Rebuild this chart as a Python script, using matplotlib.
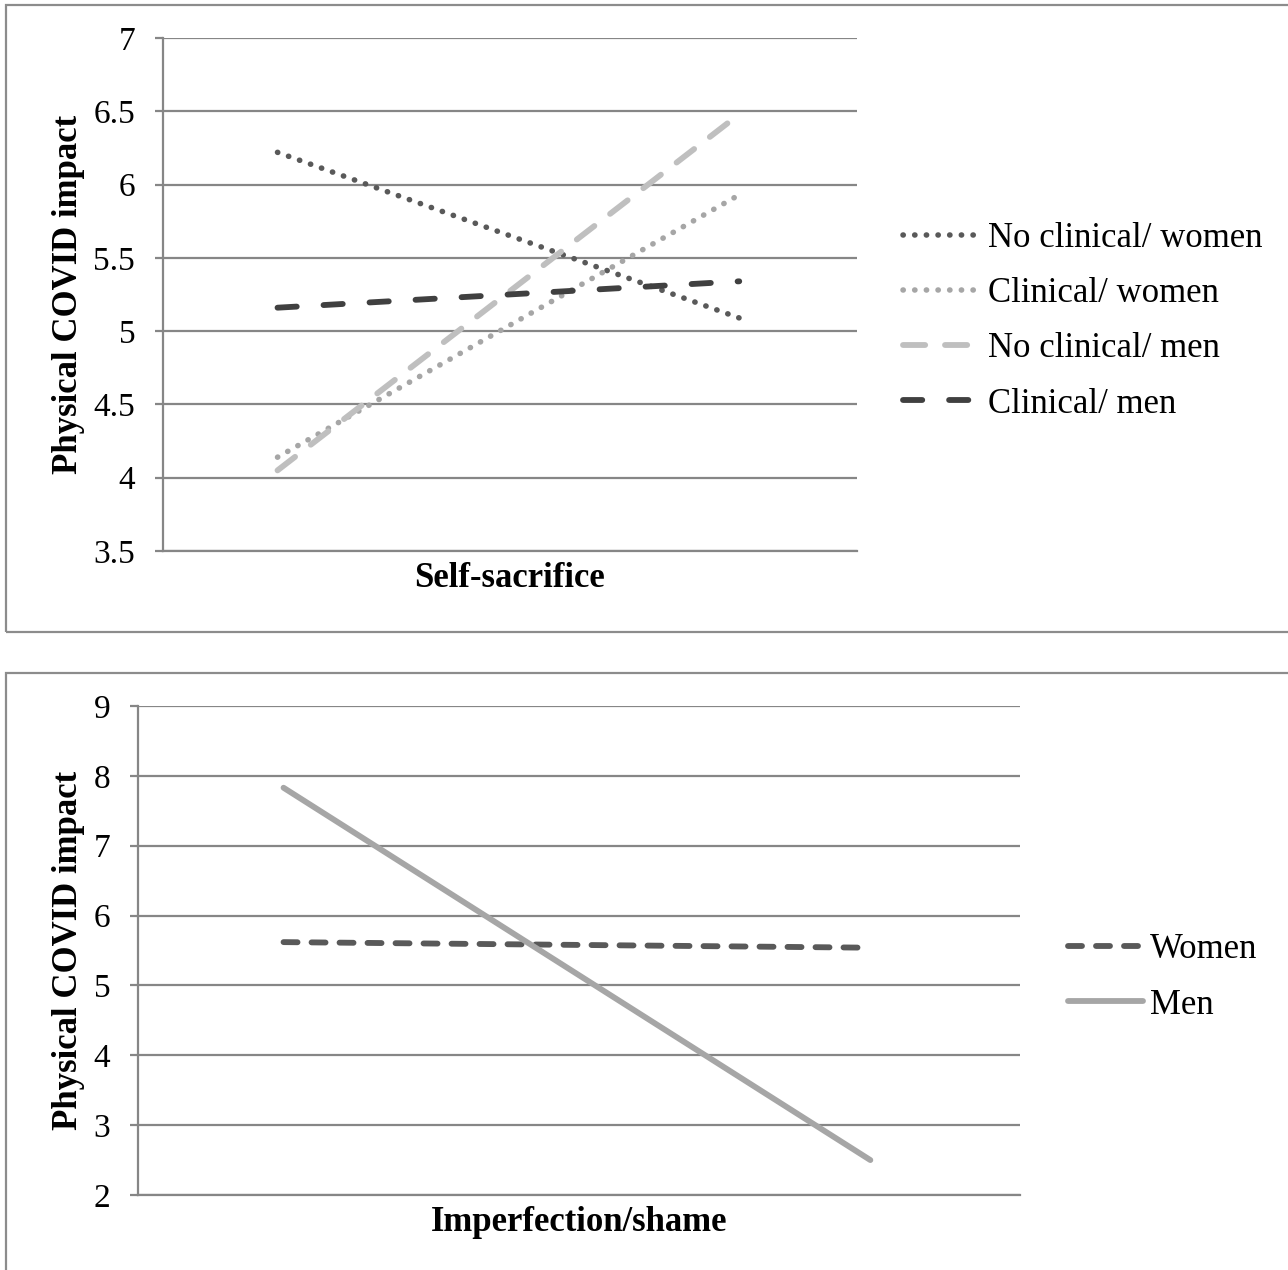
import matplotlib.pyplot as plt
from matplotlib.patches import Rectangle

plt.rcParams['font.family'] = ['Liberation Serif', 'DejaVu Serif']

# Top chart: physical COVID impact by self-sacrifice (low / high)
top_series = ['No clinical/ women', 'Clinical/ women', 'No clinical/ men', 'Clinical/ men']
top_low = [6.22, 4.14, 4.05, 5.16]
top_high = [5.09, 5.93, 6.48, 5.34]
top_colors = ['#595959', '#a6a6a6', '#bfbfbf', '#404040']
top_widths = [4.0, 4.0, 4.2, 4.2]
top_dashes = [(0, (0.05, 2.05)), (0, (0.05, 2.05)), (0, (3.8, 3.4)), (0, (3.3, 4.6))]
top_yticks = [3.5, 4, 4.5, 5, 5.5, 6, 6.5, 7]

# Bottom chart: physical COVID impact by imperfection/shame
bot_series = ['Women', 'Men']
bot_low = [5.62, 7.83]
bot_high = [5.54, 2.50]
bot_colors = ['#595959', '#a6a6a6']
bot_dashes = [(0, (2.4, 2.4)), '-']
bot_yticks = [2, 3, 4, 5, 6, 7, 8, 9]

W, H = 1288, 1270
fig = plt.figure(figsize=(W / 100, H / 100), dpi=100)

# panel borders
for (y0, y1) in [(5, 632), (673, 1272)]:
    fig.patches.append(Rectangle((6 / W, 1 - y1 / H), (W + 10) / W, (y1 - y0) / H,
                                 transform=fig.transFigure, fill=False,
                                 edgecolor='#8c8c8c', lw=1.6))

grid_c = '#868686'


def style_axes(ax, yticks, xlabel):
    ax.set_ylim(yticks[0], yticks[-1])
    ax.set_yticks(yticks)
    ax.set_yticklabels([f'{t:g}' for t in yticks])
    ax.set_xlim(-0.248, 1.255)
    ax.set_xticks([])
    ax.grid(axis='y', color=grid_c, lw=1.6)
    ax.set_axisbelow(True)
    for s in ['top', 'right']:
        ax.spines[s].set_visible(False)
    ax.spines['left'].set_color(grid_c)
    ax.spines['left'].set_linewidth(1.6)
    ax.spines['bottom'].set_color(grid_c)
    ax.spines['bottom'].set_linewidth(1.6)
    ax.tick_params(axis='y', length=6, width=1.6, color=grid_c, pad=14, labelsize=24)
    ax.set_xlabel(xlabel, fontsize=25, fontweight='bold', labelpad=8)
    ax.set_ylabel('Physical COVID impact', fontsize=25, fontweight='bold', labelpad=6)


ax1 = fig.add_axes([163 / W, 1 - 551 / H, (857 - 163) / W, (551 - 38) / H])
for name, a, b, c, w, d in zip(top_series, top_low, top_high, top_colors, top_widths, top_dashes):
    ax1.plot([0, 1], [a, b], color=c, lw=w, linestyle=d, dash_capstyle='round',
             solid_capstyle='round', label=name)
style_axes(ax1, top_yticks, 'Self-sacrifice')
ax1.legend(loc='center left', bbox_to_anchor=(1.066, 0.448), frameon=False, fontsize=25,
           handlelength=2.07, handletextpad=0.37, labelspacing=0.64,
           borderpad=0, borderaxespad=0)

ax2 = fig.add_axes([138 / W, 1 - 1195 / H, (1020 - 138) / W, (1195 - 706) / H])
for name, a, b, c, d in zip(bot_series, bot_low, bot_high, bot_colors, bot_dashes):
    ax2.plot([0, 1], [a, b], color=c, lw=4.2, linestyle=d,
             dash_capstyle='round', solid_capstyle='round', label=name)
style_axes(ax2, bot_yticks, 'Imperfection/shame')
ax2.legend(loc='center left', bbox_to_anchor=(1.054, 0.445), frameon=False, fontsize=25,
           handlelength=2.16, handletextpad=0.2, labelspacing=0.64,
           borderpad=0, borderaxespad=0)

fig.savefig('out.png', dpi=100)
